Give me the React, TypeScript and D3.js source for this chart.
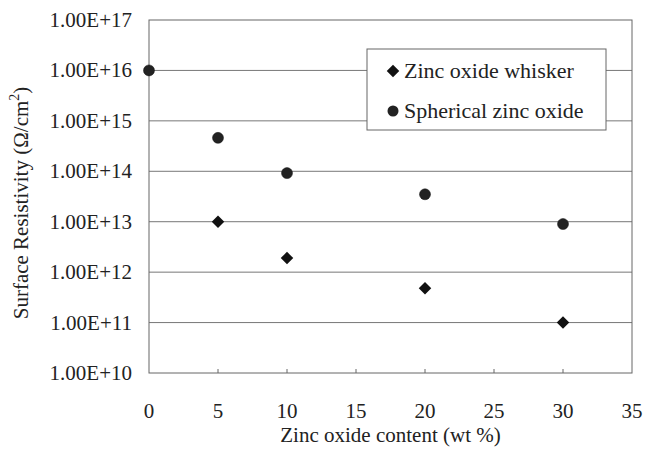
import React, { useEffect, useRef } from 'react'
import * as d3 from 'd3'

// zinc oxide content (wt %)
const whiskerX = [5, 10, 20, 30]
const whiskerY = [1e13, 1.9e12, 4.8e11, 1e11]
const sphereX = [0, 5, 10, 20, 30]
const sphereY = [1e16, 4.6e14, 9.2e13, 3.5e13, 9e12]
const xTicks = [0, 5, 10, 15, 20, 25, 30, 35]
const yTicks = [1e10, 1e11, 1e12, 1e13, 1e14, 1e15, 1e16, 1e17]
const seriesNames = ['Zinc oxide whisker', 'Spherical zinc oxide']

const fmt = (v: number) => '1.00E+' + Math.round(Math.log10(v))

export default function App() {
    const ref = useRef<SVGSVGElement>(null)

    useEffect(() => {
        const margin = { top: 20, right: 13, bottom: 76, left: 149 }
        const width = 645 - margin.left - margin.right
        const height = 449 - margin.top - margin.bottom

        const root = d3.select(ref.current)
        root.selectAll('*').remove()
        const svg = root.append('g')
            .attr('transform', 'translate(' + margin.left + ',' + margin.top + ')')
            .attr('font-family', 'Liberation Serif')
            .attr('font-size', 21)
            .attr('fill', '#222')

        const xScale = d3.scaleLinear().domain([0, 35]).range([0, width])
        const yScale = d3.scaleLog().domain([1e10, 1e17]).range([height, 0])

        // gridlines
        svg.selectAll('.grid')
            .data(yTicks.slice(1, -1))
            .enter().append('line')
            .attr('x1', 0).attr('x2', width)
            .attr('y1', d => yScale(d)).attr('y2', d => yScale(d))
            .attr('stroke', '#777').attr('stroke-width', 1)

        // frame
        svg.append('rect')
            .attr('x', 0).attr('y', 0)
            .attr('width', width).attr('height', height)
            .attr('fill', 'none').attr('stroke', '#666').attr('stroke-width', 1)

        // x ticks (inside)
        svg.selectAll('.xtick')
            .data(xTicks.slice(1, -1))
            .enter().append('line')
            .attr('x1', d => xScale(d)).attr('x2', d => xScale(d))
            .attr('y1', height).attr('y2', height - 4)
            .attr('stroke', '#666')

        svg.selectAll('.xlab')
            .data(xTicks)
            .enter().append('text')
            .attr('x', d => xScale(d))
            .attr('y', height + 45)
            .attr('text-anchor', 'middle')
            .text(d => d)

        svg.selectAll('.ylab')
            .data(yTicks)
            .enter().append('text')
            .attr('x', -17)
            .attr('y', d => yScale(d) + 7)
            .attr('text-anchor', 'end')
            .text(d => fmt(d))

        // axis titles
        svg.append('text')
            .attr('x', width / 2)
            .attr('y', height + 69)
            .attr('text-anchor', 'middle')
            .text('Zinc oxide content (wt %)')

        const yt = svg.append('text')
            .attr('transform', 'translate(' + (-121) + ',' + (203 - margin.top) + ') rotate(-90)')
            .attr('text-anchor', 'middle')
        yt.append('tspan').text('Surface Resistivity (\u03A9/cm')
        yt.append('tspan').attr('dy', -9).attr('font-size', 14).text('2')
        yt.append('tspan').attr('dy', 9).text(')')

        const diamond = d3.symbol().type(d3.symbolDiamond2).size(100)

        // whisker series
        svg.selectAll('.dia')
            .data(whiskerX.map((x, i) => ({ x: x, y: whiskerY[i] })))
            .enter().append('path')
            .attr('d', diamond)
            .attr('fill', '#111')
            .attr('transform', d => 'translate(' + xScale(d.x) + ',' + yScale(d.y) + ')')

        // spherical series
        svg.selectAll('.dot')
            .data(sphereX.map((x, i) => ({ x: x, y: sphereY[i] })))
            .enter().append('circle')
            .attr('cx', d => xScale(d.x))
            .attr('cy', d => yScale(d.y))
            .attr('r', 5.5)
            .attr('fill', '#222').attr('stroke', '#111').attr('stroke-width', 0.5)

        // legend
        const lg = svg.append('g').attr('transform', 'translate(' + (367 - margin.left) + ',' + (49 - margin.top) + ')')
        lg.append('rect')
            .attr('width', 239).attr('height', 81)
            .attr('fill', '#fff').attr('stroke', '#666')
        lg.append('path')
            .attr('d', diamond)
            .attr('fill', '#111')
            .attr('transform', 'translate(26,22)')
        lg.append('circle')
            .attr('cx', 26).attr('cy', 62).attr('r', 5.5).attr('fill', '#222')
        lg.selectAll('.lt')
            .data(seriesNames)
            .enter().append('text')
            .attr('x', 37)
            .attr('y', (d, i) => 29 + i * 40)
            .attr('font-size', 22)
            .text(d => d)
    }, [])

    return (
        <svg ref={ref} width={645} height={449}
            style={{ position: 'absolute', left: 0, top: 0, background: '#fff' }} />
    )
}
